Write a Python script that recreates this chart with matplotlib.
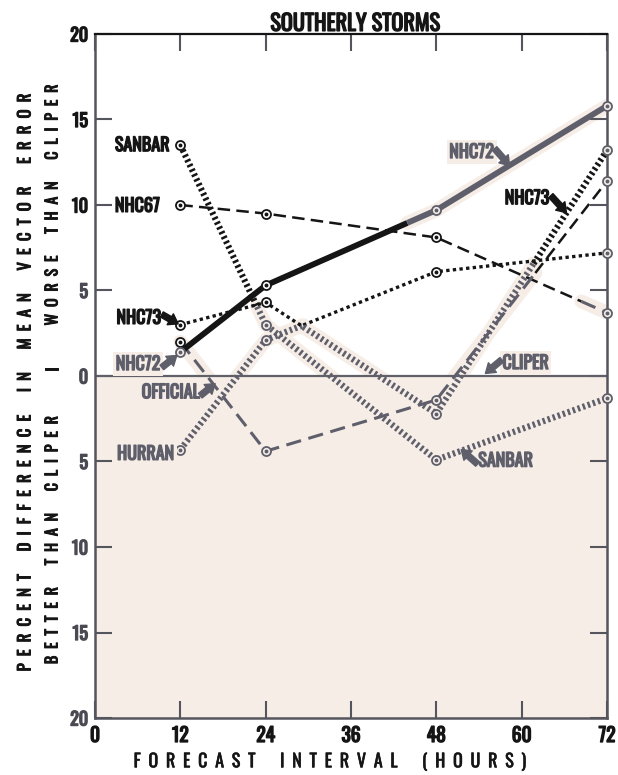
import numpy as np
import matplotlib
matplotlib.use("Agg")
import matplotlib.pyplot as plt
import matplotlib.patheffects as pe

# ---------------- data ----------------
hours = [12, 24, 48, 72]
sanbar = [13.5, 3.0, -4.9, -1.3]
nhc67 = [10.0, 9.5, 8.1, 3.7]
nhc72 = [1.4, 5.3, 9.7, 15.8]
nhc73 = [3.0, 4.3, -2.2, 13.2]
hurran = [-4.3, 2.1, 6.1, 7.2]
official = [2.0, -4.4, -1.4, 11.4]
cliper = 0.0

x_ticks = [0, 12, 24, 36, 48, 60, 72]
y_ticks = [-20, -15, -10, -5, 0, 5, 10, 15, 20]
y_tick_labels = ["20", "15", "10", "5", "0", "5", "10", "15", "20"]

# ---------------- style ----------------
K = "#151515"
G = "#5f5f6b"
BEIGE = "#f6ede7"
FONT = ["Oswald", "DejaVu Sans"]
plt.rcParams["font.family"] = FONT


def bold(c, w=0.9):
    return [pe.withStroke(linewidth=w, foreground=c)]


def spaced(s):
    gap = " \u2009"
    return (gap + "\u2002" + gap).join(gap.join(word) for word in s.split(" "))


styles = {
    "solid_k": dict(color=K, lw=4.2, ls="-", solid_capstyle="butt"),
    "solid_g": dict(color=G, lw=4.2, ls="-", solid_capstyle="butt"),
    "dash_k": dict(color=K, lw=1.8, dashes=(5, 2.5)),
    "dash_g": dict(color=G, lw=2.2, dashes=(5, 2.5)),
    "ladder_k": dict(color=K, lw=4.5, dashes=(0.4, 0.45)),
    "ladder_g": dict(color=G, lw=4.5, dashes=(0.4, 0.45)),
    "dot_k": dict(color=K, lw=2.4, dashes=(1, 1)),
}

# (series values, pieces along polyline index, marker colours)
series = [
    (nhc67, [(0, 2.85, "dash_k"), (2.85, 3, "dash_g")], [K, K, K, G]),
    (official, [(0, 2.58, "dash_g"), (2.58, 3, "dash_k")], [K, G, G, G]),
    (hurran, [(0, 1.22, "ladder_g"), (1.22, 3, "dot_k")], [G, G, K, G]),
    (sanbar, [(0, 0.9, "ladder_k"), (0.9, 3, "ladder_g")], [K, G, G, G]),
    (nhc73, [(0, 1.22, "dot_k"), (1.22, 2.57, "ladder_g"), (2.57, 3, "ladder_k")], [K, K, G, G]),
    (nhc72, [(0, 1.83, "solid_k"), (1.83, 3, "solid_g")], [G, K, G, G]),
]

fig = plt.figure(figsize=(6.18, 7.75), dpi=100)
ax = fig.add_axes([95 / 618, 1 - 718 / 775, (607 - 95) / 618, (718 - 34) / 775])
ax.set_xlim(0, 72)
ax.set_ylim(-20, 20)

ax.axhspan(-20, 0, color=BEIGE, zorder=0, lw=0)
ax.axhline(cliper, color="#606068", lw=1.6, zorder=2)


def piece(xs, ys, t0, t1):
    t = np.arange(len(xs))
    ts = [t0] + [v for v in t if t0 < v < t1] + [t1]
    return np.interp(ts, t, xs), np.interp(ts, t, ys)


for vals, pcs, mcols in series:
    for t0, t1, key in pcs:
        px, py = piece(hours, vals, t0, t1)
        st = styles[key]
        if st["color"] == G:
            ax.plot(px, py, color=BEIGE, lw=10, solid_capstyle="round", zorder=1)
        ax.plot(px, py, zorder=3, **st)
    for xv, yv, c in zip(hours, vals, mcols):
        face = "white" if c == K else BEIGE
        ax.plot([xv], [yv], "o", ms=6.5, mfc=face, mec=c, mew=1.3, zorder=5, clip_on=False)
        ax.plot([xv], [yv], "o", ms=1.8, color=c, zorder=6, clip_on=False)

# ---------------- axes ----------------
for side in ["left", "bottom", "right"]:
    ax.spines[side].set_color("#55555d")
    ax.spines[side].set_linewidth(1.8)
ax.spines["top"].set_color(K)
ax.spines["top"].set_linewidth(1.6)

ax.set_xticks(x_ticks)
ax.set_yticks(y_ticks)
ax.set_yticklabels(y_tick_labels)
ax.tick_params(direction="in", length=12, width=1.5, color="#55555d",
               top=True, right=True, labeltop=False, labelright=False)
ax.tick_params(axis="y", pad=5)
ax.tick_params(axis="x", pad=5)
for lab, v in zip(ax.get_yticklabels(), y_ticks):
    c = K if v >= 10 else "#4a4a52"
    lab.set_fontsize(13)
    lab.set_color(c)
    lab.set_path_effects(bold(c, 1.0))
for lab in ax.get_xticklabels():
    lab.set_fontsize(14)
    lab.set_color(K)
    lab.set_path_effects(bold(K, 1.0))

ax.text(36.6, 19.95, "SOUTHERLY STORMS", ha="center", va="bottom",
        fontsize=16, color=K, path_effects=bold(K, 1.0))

# axis titles
ykw = dict(rotation=90, ha="center", va="center", color=K, path_effects=bold(K, 0.7))
fig.text(25 / 618, 1 - 381 / 775,
         spaced("PERCENT DIFFERENCE IN MEAN VECTOR ERROR"), fontsize=12, **ykw)
fig.text(53 / 618, 1 - 205 / 775, spaced("WORSE THAN CLIPER"), fontsize=11.5, **ykw)
fig.text(53 / 618, 1 - 540 / 775, spaced("BETTER THAN CLIPER"), fontsize=11.5, **ykw)
fig.text(53 / 618, 1 - 369 / 775, "I", fontsize=11.5, **ykw)
fig.text(330 / 618, 1 - 762 / 775, spaced("FORECAST INTERVAL (HOURS)"),
         ha="center", va="center", fontsize=13, color=K, path_effects=bold(K, 0.4))

# ---------------- labels ----------------
lab_kw = dict(fontsize=13, va="center", zorder=7)
arrow_kw = dict(arrowstyle="simple,head_length=0.55,head_width=0.75,tail_width=0.35",
                mutation_scale=12, shrinkA=0, shrinkB=0)
labels = [
    ("SANBAR", 2.8, 13.5, "left", K, None),
    ("NHC67", 2.8, 9.95, "left", K, None),
    ("NHC73", 9.3, 3.4, "right", K, ((9.4, 3.6), (11.7, 3.05))),
    ("NHC72", 9.2, 0.7, "right", G, ((9.4, 0.5), (11.5, 1.2))),
    ("OFFICIAL", 14.7, -0.95, "right", G, ((14.8, -1.15), (16.9, -0.45))),
    ("HURRAN", 3.1, -4.55, "left", G, None),
    ("NHC72", 56.1, 13.1, "right", G, ((56.2, 13.3), (58.3, 12.3))),
    ("NHC73", 63.9, 10.4, "right", K, ((64.1, 10.55), (66.3, 9.55))),
    ("CLIPER", 57.3, 0.76, "left", G, ((57.2, 0.95), (54.9, 0.15))),
    ("SANBAR", 53.9, -4.95, "left", G, ((53.8, -5.15), (51.5, -4.3))),
]
for txt, x, y, ha, c, arr in labels:
    bb = dict(boxstyle="square,pad=0.15", fc=BEIGE, ec="none") if c == G else None
    ax.text(x, y, txt, ha=ha, color=c, bbox=bb, path_effects=bold(c, 1.0), **lab_kw)
    if arr is not None:
        ax.annotate("", xy=arr[1], xytext=arr[0],
                    arrowprops=dict(color=c, **arrow_kw), zorder=7)

fig.savefig("out.png", dpi=100, facecolor="white")
